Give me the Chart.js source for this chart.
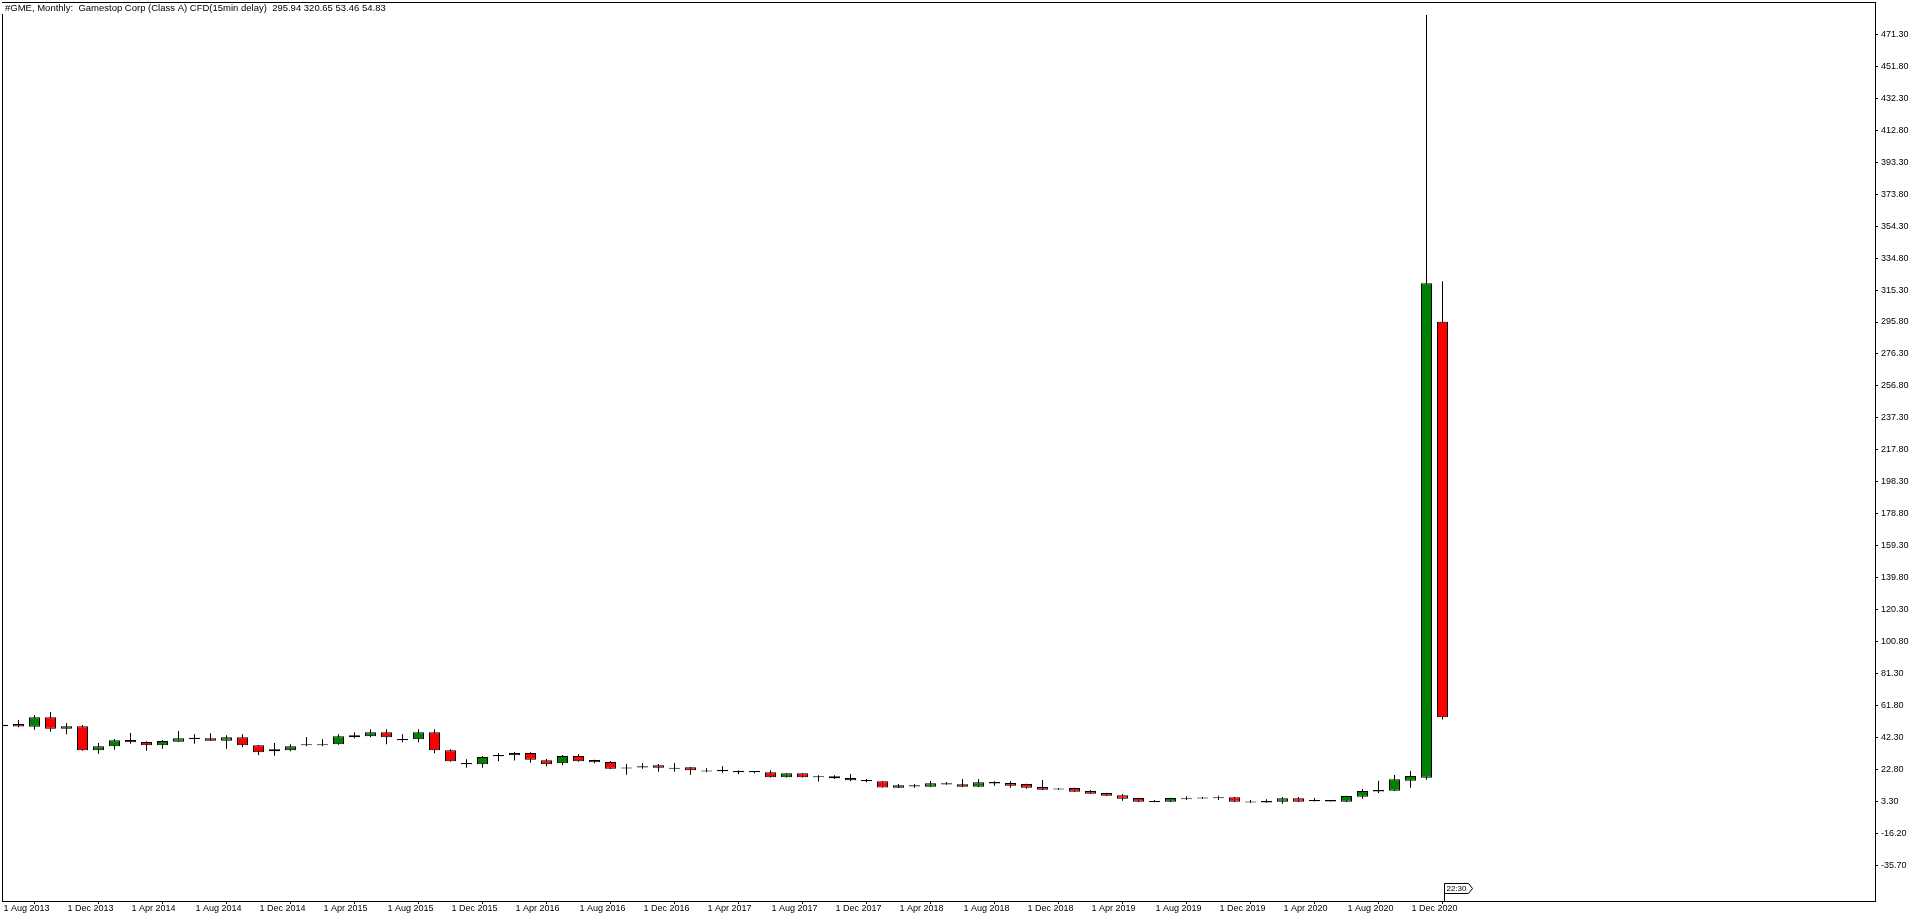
<!doctype html>
<html lang="en">
  <head>
    <meta charset="utf-8">
    <title>#GME, Monthly</title>
    <script src="https://cdn.jsdelivr.net/npm/chart.js@4.4.1/dist/chart.umd.min.js"></script>
    <style>
      html, body { margin: 0; padding: 0; background: #fff; overflow: hidden; }
      #chart { display: block; }
    </style>
  </head>
  <body>
    <canvas id="chart" width="1916" height="919"></canvas>
    <script>
    // monthly bars, Aug 2013 .. Feb 2021
    const opens  = [50.2, 50.7, 49.06, 54.75, 47.84, 49.27, 34.63, 37.07, 40.93, 39.71,
                    37.68, 39.92, 41.6, 41.95, 40.53, 42.56, 37.68, 34.02, 34.63, 37.7,
                    37.7, 38.29, 43.77, 43.17, 45.61, 41.5, 41.34, 45.61, 34.63, 26.9,
                    26.1, 31.0, 31.58, 33.0, 28.53, 26.7, 31.18, 28.74, 27.5, 24.2,
                    25.0, 25.48, 24.0, 24.26, 22.4, 22.6, 22.0, 22.0, 21.2, 18.17,
                    20.6, 18.8, 18.78, 17.76, 16.5, 15.73, 11.87, 13.4, 12.48, 13.8,
                    13.9, 12.48, 15.3, 14.71, 14.1, 12.28, 11.4, 11.67, 9.84, 8.62,
                    7.2, 5.57, 3.7, 3.33, 5.4, 5.9, 6.0, 5.98, 3.5, 3.7,
                    3.33, 5.37, 4.3, 4.3, 3.33, 6.38, 9.5, 10.04, 16.13, 17.96,
                    295.94];
    const highs  = [50.5, 53.1, 56.18, 58.0, 51.3, 50.08, 39.1, 41.54, 45.2, 40.12,
                    40.93, 46.42, 44.39, 45.0, 43.77, 44.39, 37.9, 39.1, 38.29, 42.76,
                    41.34, 44.39, 45.61, 47.44, 47.44, 44.39, 47.44, 47.44, 35.24, 29.14,
                    31.18, 33.0, 33.6, 33.4, 29.35, 31.79, 32.4, 28.9, 28.1, 26.3,
                    26.9, 26.3, 26.9, 24.4, 23.65, 24.87, 22.44, 22.0, 22.44, 20.7,
                    20.7, 19.39, 19.39, 20.2, 17.15, 15.8, 14.1, 14.1, 15.93, 15.3,
                    17.15, 17.15, 15.8, 15.73, 14.2, 16.54, 11.5, 11.8, 10.45, 8.8,
                    8.0, 5.6, 4.35, 5.7, 6.58, 6.1, 7.0, 6.1, 4.35, 4.76,
                    6.18, 6.18, 5.57, 4.35, 7.0, 11.05, 16.13, 19.59, 22.03, 483.0,
                    320.65];
    const lows   = [49.2, 48.65, 47.23, 46.0, 44.4, 34.4, 32.6, 35.04, 38.7, 34.43,
                    35.65, 39.8, 38.7, 40.3, 35.65, 36.46, 31.58, 31.38, 34.02, 37.07,
                    37.07, 38.1, 41.95, 42.56, 38.29, 39.51, 39.51, 32.8, 27.7, 24.06,
                    24.06, 27.9, 28.5, 27.11, 24.87, 25.48, 27.7, 26.7, 23.3, 19.8,
                    23.45, 21.6, 21.6, 19.8, 21.2, 21.0, 20.0, 20.6, 18.0, 18.0,
                    18.0, 15.7, 17.15, 15.93, 15.1, 11.9, 11.7, 11.87, 12.3, 13.7,
                    12.3, 12.3, 13.09, 11.87, 11.26, 10.5, 10.6, 9.3, 8.1, 6.9,
                    3.94, 3.2, 2.93, 3.2, 4.35, 5.1, 4.35, 3.2, 2.72, 2.6,
                    2.1, 3.2, 3.45, 3.4, 3.2, 5.16, 8.62, 9.9, 11.87, 16.75,
                    53.46];
    const closes = [49.3, 49.1, 54.75, 47.84, 49.27, 34.63, 37.07, 40.73, 39.51, 37.68,
                    40.32, 41.95, 42.3, 40.53, 42.56, 37.68, 33.42, 35.24, 37.07, 38.3,
                    38.3, 43.17, 42.56, 45.61, 42.56, 40.8, 45.61, 34.63, 27.92, 26.1,
                    30.57, 31.8, 33.0, 28.94, 26.1, 31.18, 27.92, 27.31, 23.45, 23.5,
                    24.1, 24.06, 24.0, 22.44, 22.4, 21.9, 21.3, 21.3, 18.17, 20.6,
                    18.17, 18.2, 17.56, 16.34, 15.8, 11.95, 13.29, 12.6, 14.51, 14.6,
                    12.48, 15.12, 14.4, 13.09, 11.87, 10.65, 10.7, 9.43, 8.21, 7.0,
                    5.16, 3.33, 3.7, 5.57, 5.4, 5.2, 6.0, 3.33, 3.5, 2.8,
                    5.37, 3.33, 3.6, 3.5, 6.78, 9.84, 10.4, 16.95, 18.98, 319.5,
                    54.83];

    const dateLabels = ['1 Aug 2013', '1 Dec 2013', '1 Apr 2014', '1 Aug 2014', '1 Dec 2014',
                        '1 Apr 2015', '1 Aug 2015', '1 Dec 2015', '1 Apr 2016', '1 Aug 2016',
                        '1 Dec 2016', '1 Apr 2017', '1 Aug 2017', '1 Dec 2017', '1 Apr 2018',
                        '1 Aug 2018', '1 Dec 2018', '1 Apr 2019', '1 Aug 2019', '1 Dec 2019',
                        '1 Apr 2020', '1 Aug 2020', '1 Dec 2020'];
    const priceTicks = [471.30, 451.80, 432.30, 412.80, 393.30, 373.80, 354.30, 334.80, 315.30,
                        295.80, 276.30, 256.80, 237.30, 217.80, 198.30, 178.80, 159.30, 139.80,
                        120.30, 100.80, 81.30, 61.80, 42.30, 22.80, 3.30, -16.20, -35.70];

    const titleText = '#GME, Monthly:  Gamestop Corp (Class A) CFD(15min delay)  295.94 320.65 53.46 54.83';
    const timerText = '22:30';

    const FONT = '"Liberation Sans", Arial, sans-serif';
    Chart.defaults.font.family = FONT;
    Chart.defaults.font.size = 9;
    Chart.defaults.color = '#000';

    const bodies = opens.map((o, i) => ({x: i, y: [o, closes[i]]}));
    const wicks = lows.map((l, i) => ({x: i, y: [l, highs[i]]}));
    const bodyColors = opens.map((o, i) => closes[i] >= o ? '#008000' : '#ff0000');

    // frame, title line and the bar timer flag, the way the terminal draws them
    const terminalDecor = {
      id: 'terminalDecor',
      afterDraw(chart) {
        const ctx = chart.ctx;
        const a = chart.chartArea;
        ctx.save();
        ctx.strokeStyle = '#000';
        ctx.lineWidth = 1;
        ctx.strokeRect(Math.round(a.left) + 0.5, Math.round(a.top) + 0.5,
                       Math.round(a.right - a.left), Math.round(a.bottom - a.top));

        ctx.font = '9.5px ' + FONT;
        const tw = ctx.measureText(titleText).width;
        ctx.fillStyle = '#fff';
        ctx.fillRect(0, a.top + 1, tw + 8, 11);
        ctx.fillStyle = '#000';
        ctx.textBaseline = 'middle';
        ctx.textAlign = 'left';
        ctx.fillText(titleText, a.left + 3, a.top + 6);

        // timer flag on the last bar
        const xs = chart.scales.x;
        const fx = Math.round(xs.getPixelForValue(opens.length - 1)) + 1.5;
        ctx.font = '8px ' + FONT;
        const fw = Math.ceil(ctx.measureText(timerText).width) + 3;
        const top = a.bottom - 17.5, bot = a.bottom - 7.5;
        ctx.fillStyle = '#fff';
        ctx.beginPath();
        ctx.moveTo(fx, a.bottom);
        ctx.lineTo(fx, top);
        ctx.lineTo(fx + fw, top);
        ctx.lineTo(fx + fw + 4, (top + bot) / 2);
        ctx.lineTo(fx + fw, bot);
        ctx.lineTo(fx, bot);
        ctx.fill();
        ctx.stroke();
        ctx.fillStyle = '#000';
        ctx.fillText(timerText, fx + 2, (top + bot) / 2 + 0.5);
        ctx.restore();
      }
    };

    new Chart(document.getElementById('chart'), {
      type: 'bar',
      data: {
        datasets: [
          {
            label: 'body',
            data: bodies,
            backgroundColor: bodyColors,
            borderColor: '#000',
            borderWidth: 1,
            borderSkipped: false,
            inflateAmount: 0,
            barThickness: 11,
            minBarLength: 1,
            grouped: false,
            order: 0
          },
          {
            label: 'wick',
            data: wicks,
            backgroundColor: '#000',
            borderWidth: 0,
            inflateAmount: 0,
            barThickness: 1,
            grouped: false,
            order: 1
          }
        ]
      },
      options: {
        responsive: false,
        devicePixelRatio: 1,
        animation: false,
        layout: { padding: { top: 2, left: 2, right: 0, bottom: 0 } },
        plugins: {
          legend: { display: false },
          tooltip: { enabled: false }
        },
        scales: {
          x: {
            type: 'linear',
            offset: false,
            min: -0.03125,
            max: 117.03125,
            grid: { drawOnChartArea: false, drawTicks: true, tickLength: 3, color: '#000', tickColor: '#000' },
            border: { display: true, color: '#000' },
            afterBuildTicks: (scale) => { scale.ticks = dateLabels.map((l, k) => ({ value: 4 * k })); },
            afterFit: (scale) => { scale.height = 18; scale.paddingLeft = 0; scale.paddingRight = 0; },
            ticks: {
              autoSkip: false,
              maxRotation: 0,
              minRotation: 0,
              align: 'start',
              labelOffset: 1,
              padding: -1,
              callback: (v, i) => dateLabels[i]
            }
          },
          y: {
            position: 'right',
            beginAtZero: false,
            min: -57.24,
            max: 490.93,
            grid: { drawOnChartArea: false, drawTicks: true, tickLength: 3, color: '#000', tickColor: '#000' },
            border: { display: true, color: '#000' },
            afterBuildTicks: (scale) => { scale.ticks = priceTicks.map(v => ({ value: v })); },
            afterFit: (scale) => { scale.width = 41; scale.paddingTop = 0; scale.paddingBottom = 0; },
            ticks: {
              autoSkip: false,
              padding: 3,
              callback: (v) => Number(v).toFixed(2)
            }
          }
        }
      },
      plugins: [terminalDecor]
    });
    </script>
  </body>
</html>
